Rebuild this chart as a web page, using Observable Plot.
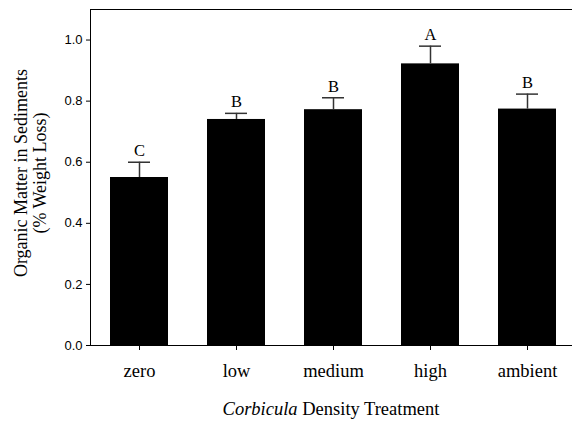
<!DOCTYPE html>
<html>
<head>
<meta charset="utf-8">
<script src="https://cdn.jsdelivr.net/npm/d3@7"></script>
<script src="https://cdn.jsdelivr.net/npm/@observablehq/plot@0.6"></script>
<style>
  html, body { margin: 0; padding: 0; background: #fff; }
  #chart svg { display: block; }
</style>
</head>
<body>
<div id="chart"></div>
<script>
const categories = ["zero", "low", "medium", "high", "ambient"];
const means = [0.55, 0.74, 0.772, 0.922, 0.774];
const errTops = [0.60, 0.76, 0.811, 0.980, 0.823];
const letters = ["C", "B", "B", "A", "B"];
const yTicks = [0, 0.2, 0.4, 0.6, 0.8, 1.0];
const yMax = 1.1;

const data = categories.map((c, i) => ({cat: c, mean: means[i], top: errTops[i], letter: letters[i]}));

const svg = Plot.plot({
  width: 572,
  height: 422,
  marginLeft: 90,
  marginRight: -4,
  marginTop: 9,
  marginBottom: 77,
  style: {fontFamily: "'Liberation Serif', 'Times New Roman', serif", fontSize: "17px", color: "#000", background: "#fff"},
  x: {domain: categories, paddingInner: 0.4, paddingOuter: 0.2, label: null, tickSize: 5, tickPadding: 13, line: true},
  y: {domain: [0, yMax], ticks: yTicks, tickFormat: d3.format(".1f"), tickSize: 4, tickPadding: 4, label: null, line: true},
  marks: [
    Plot.barY(data, {x: "cat", y: "mean", fill: "#000"}),
    Plot.ruleX(data, {x: "cat", y1: "mean", y2: "top", stroke: "#333", strokeWidth: 1.5}),
    Plot.tickY(data, {x: "cat", y: "top", stroke: "#333", strokeWidth: 1.5, insetLeft: 18, insetRight: 18}),
    Plot.text(data, {x: "cat", y: "top", text: "letter", lineAnchor: "bottom", dy: -6, fontSize: 16.5, fill: "#000"}),
    Plot.ruleY([yMax], {stroke: "#000", strokeWidth: 1.2})
  ]
});

const s = d3.select(svg);
s.selectAll('g[aria-label="y-axis"] text, g[aria-label="y-axis tick label"] text')
  .style("font-family", "'Liberation Sans', Arial, sans-serif")
  .style("font-size", "13px");
s.selectAll('g[aria-label="x-axis"] text, g[aria-label="x-axis tick label"] text')
  .style("font-family", "'Liberation Serif', 'Times New Roman', serif")
  .style("font-size", "18.5px");

// y-axis title (two lines)
const yt = s.append("text")
  .attr("transform", "translate(27,173) rotate(-90)")
  .attr("text-anchor", "middle")
  .style("font-family", "'Liberation Serif', 'Times New Roman', serif")
  .style("font-size", "18px")
  .attr("fill", "#000");
yt.append("tspan").attr("x", 0).attr("dy", 0).text("Organic Matter in Sediments");
yt.append("tspan").attr("x", 0).attr("dy", 19).text("(% Weight Loss)");

// x-axis title
const xt = s.append("text")
  .attr("x", 331).attr("y", 415)
  .attr("text-anchor", "middle")
  .style("font-family", "'Liberation Serif', 'Times New Roman', serif")
  .style("font-size", "18.5px")
  .attr("fill", "#000");
xt.append("tspan").style("font-style", "italic").text("Corbicula");
xt.append("tspan").text(" Density Treatment");

document.getElementById("chart").appendChild(svg);
</script>
</body>
</html>
